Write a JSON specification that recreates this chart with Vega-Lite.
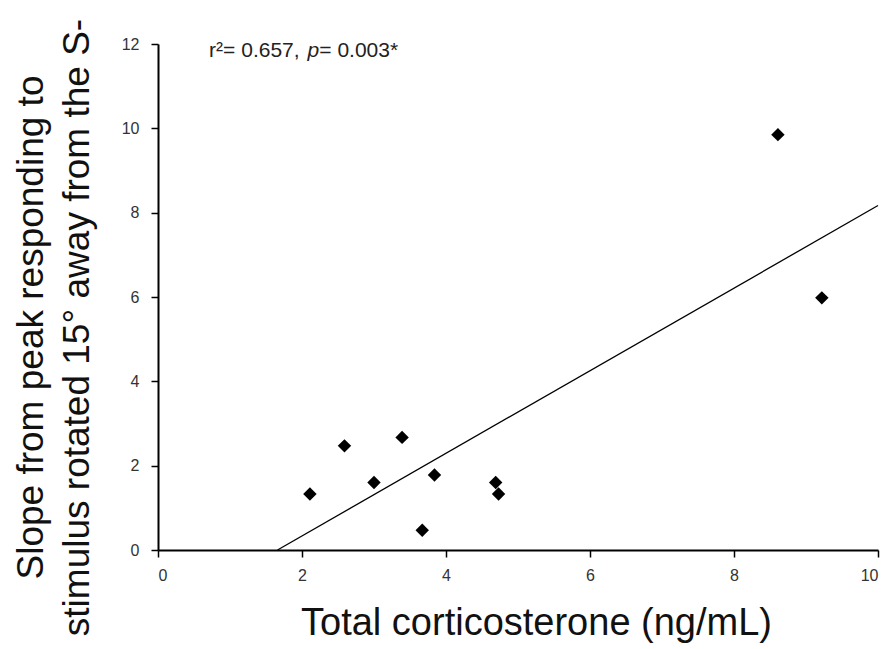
{
  "$schema": "https://vega.github.io/schema/vega-lite/v6.json",
  "width": 720,
  "height": 506,
  "autosize": "none",
  "padding": {"left": 158, "top": 44, "right": 14, "bottom": 99},
  "background": "white",
  "config": {"view": {"stroke": null}, "font": "Liberation Sans"},
  "datasets": {
    "pts": [
      {"cort": 2.11, "slope": 1.33},
      {"cort": 2.59, "slope": 2.47},
      {"cort": 3.0, "slope": 1.6},
      {"cort": 3.39, "slope": 2.67},
      {"cort": 3.67, "slope": 0.47},
      {"cort": 3.84, "slope": 1.78},
      {"cort": 4.69, "slope": 1.6},
      {"cort": 4.73, "slope": 1.33},
      {"cort": 8.61, "slope": 9.85},
      {"cort": 9.22, "slope": 5.98}
    ],
    "fit": [
      {"cort": 1.66, "slope": 0},
      {"cort": 10.0, "slope": 8.17}
    ],
    "ann": [
      {"cort": 0.71, "slope": 11.7, "label": "r²= 0.657,", "style": "normal"},
      {"cort": 2.075, "slope": 11.7, "label": "p", "style": "italic"},
      {"cort": 2.24, "slope": 11.7, "label": "= 0.003*", "style": "normal"}
    ]
  },
  "layer": [
    {
      "data": {"name": "fit"},
      "mark": {"type": "line", "color": "black", "strokeWidth": 1.3},
      "encoding": {
        "x": {
          "field": "cort", "type": "quantitative",
          "scale": {"domain": [0, 10], "nice": false},
          "axis": {
            "title": "Total corticosterone (ng/mL)",
            "values": [0, 2, 4, 6, 8, 10],
            "format": "d",
            "grid": false,
            "domainColor": "black", "domainWidth": 2,
            "tickColor": "black", "tickSize": 7, "tickWidth": 1.5,
            "labelFontSize": 16, "labelColor": "#333", "labelPadding": 10,
            "titleFontSize": 38, "titleFontWeight": "normal", "titleColor": "#111",
            "titleX": 378, "titleY": 84, "titleBaseline": "alphabetic", "titleAlign": "center", "titleAnchor": null
          }
        },
        "y": {
          "field": "slope", "type": "quantitative",
          "scale": {"domain": [0, 12], "nice": false},
          "axis": {
            "title": ["Slope from peak responding to", "stimulus rotated 15° away from the S-"],
            "values": [0, 2, 4, 6, 8, 10, 12],
            "grid": false,
            "domainColor": "black", "domainWidth": 2,
            "tickColor": "black", "tickSize": 7, "tickWidth": 1.5,
            "labelFontSize": 16, "labelColor": "#333", "labelPadding": 12,
            "titleFontSize": 37, "titleFontWeight": "normal", "titleColor": "#111",
            "titleLineHeight": 46, "titleAngle": -90,
            "titleX": -116, "titleY": 283, "titleAlign": "center", "titleBaseline": "alphabetic", "titleAnchor": null
          }
        }
      }
    },
    {
      "data": {"name": "pts"},
      "mark": {"type": "point", "shape": "diamond", "filled": true, "color": "black", "size": 180, "opacity": 1},
      "encoding": {
        "x": {"field": "cort", "type": "quantitative"},
        "y": {"field": "slope", "type": "quantitative"}
      }
    },
    {
      "data": {"name": "ann"},
      "transform": [{"filter": "datum.style === 'normal'"}],
      "mark": {"type": "text", "align": "left", "baseline": "alphabetic", "fontSize": 21, "color": "#222"},
      "encoding": {
        "x": {"field": "cort", "type": "quantitative"},
        "y": {"field": "slope", "type": "quantitative"},
        "text": {"field": "label"}
      }
    },
    {
      "data": {"name": "ann"},
      "transform": [{"filter": "datum.style === 'italic'"}],
      "mark": {"type": "text", "align": "left", "baseline": "alphabetic", "fontSize": 21, "fontStyle": "italic", "color": "#222"},
      "encoding": {
        "x": {"field": "cort", "type": "quantitative"},
        "y": {"field": "slope", "type": "quantitative"},
        "text": {"field": "label"}
      }
    }
  ]
}
